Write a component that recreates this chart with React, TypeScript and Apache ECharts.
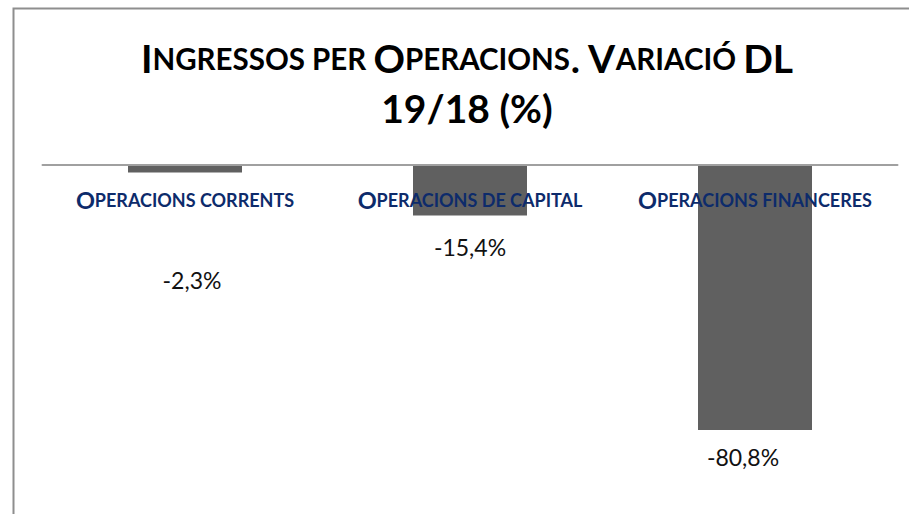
import React, { useEffect, useRef } from "react";
import * as echarts from "echarts";

const categories = ["Operacions corrents", "Operacions de capital", "Operacions financeres"];
const values = [-2.3, -15.4, -80.8];
const titleLine1 = "Ingressos per Operacions. Variació DL";
const titleLine2 = "19/18 (%)";
const labelOffsets = [[7, 81], [0, 5], [-12, 0]];

// small-caps emulation: capitals (and digits/punctuation) big, lowercase letters small capitals
const smallCaps = (s: string) => {
  let out = "";
  let cur = "";
  let curKind = "";
  const flush = () => {
    if (cur) out += `{${curKind}|${cur}}`;
    cur = "";
  };
  for (const ch of s) {
    const isLower = ch !== ch.toUpperCase();
    const kind = isLower ? "s" : ch === " " ? curKind || "s" : "b";
    if (kind !== curKind) {
      flush();
      curKind = kind;
    }
    cur += ch.toUpperCase();
  }
  flush();
  return out;
};

export default function App() {
  const ref = useRef<HTMLDivElement>(null);
  useEffect(() => {
    if (!ref.current) return;
    const chart = echarts.init(ref.current, undefined, { renderer: "svg" });
    chart.setOption({
      animation: false,
      backgroundColor: "#ffffff",
      graphic: [
        {
          type: "rect",
          shape: { x: 13.5, y: 8.5, width: 960, height: 600 },
          style: { fill: "none", stroke: "#8e8e8e", lineWidth: 2 },
          silent: true,
        },
        {
          type: "text",
          x: 467,
          y: 58,
          style: {
            text: smallCaps(titleLine1),
            align: "center",
            verticalAlign: "middle",
            rich: {
              b: { fontFamily: "Lato", fontWeight: "bold", fontSize: 39, fill: "#000", color: "#000" },
              s: { fontFamily: "Lato", fontWeight: "bold", fontSize: 29.5, fill: "#000", color: "#000" },
            },
          },
        },
        {
          type: "text",
          x: 467,
          y: 108,
          style: {
            text: titleLine2,
            align: "center",
            verticalAlign: "middle",
            fontFamily: "Lato",
            fontWeight: "bold",
            fontSize: 39,
            fill: "#000",
          },
        },
      ],
      grid: { left: 42.5, width: 855, top: 165, height: 328, containLabel: false },
      xAxis: {
        type: "category",
        data: categories,
        position: "top",
        z: 10,
        axisLine: { show: true, lineStyle: { color: "#a0a0a0", width: 2 } },
        axisTick: { show: false },
        splitLine: { show: false },
        axisLabel: {
          inside: true,
          margin: 35,
          verticalAlign: "middle",
          interval: 0,
          formatter: (v: string) => smallCaps(v),
          rich: {
            b: { fontFamily: "Lato", fontWeight: "bold", fontSize: 23.5, color: "#0d2b6b" },
            s: { fontFamily: "Lato", fontWeight: "bold", fontSize: 18, color: "#0d2b6b" },
          },
        },
      },
      yAxis: {
        type: "value",
        min: -100,
        max: 0,
        show: false,
        splitLine: { show: false },
      },
      series: [
        {
          type: "bar",
          barWidth: 114,
          itemStyle: { color: "#606060" },
          data: values.map((v, i) => ({
            value: v,
            label: { offset: labelOffsets[i] },
          })),
          label: {
            show: true,
            position: "bottom",
            distance: 15,
            fontFamily: "Lato",
            fontSize: 23,
            color: "#111",
            formatter: (p: any) => p.value.toFixed(1).replace(".", ",") + "%",
          },
        },
      ],
    });
    return () => chart.dispose();
  }, []);
  return (
    <div
      ref={ref}
      style={{ position: "fixed", left: 0, top: 0, width: 909, height: 514, overflow: "hidden", background: "#fff" }}
    />
  );
}
